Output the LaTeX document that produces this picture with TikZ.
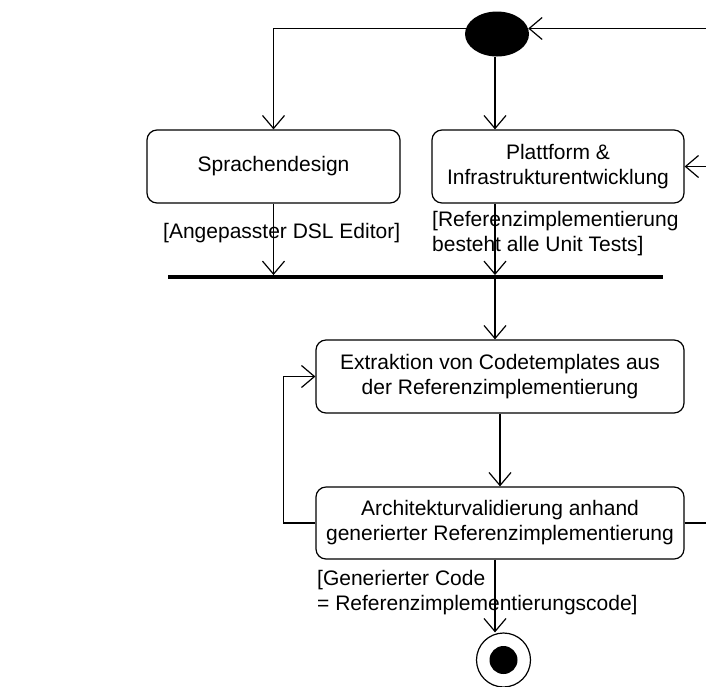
\documentclass[tikz,border=0pt]{standalone}
\usepackage{fontspec}
\setmainfont{Liberation Sans}
\usetikzlibrary{arrows.meta,shapes.geometric}
\begin{document}
\begin{tikzpicture}[x=1pt,y=-1pt,
  act/.style={draw,line width=1.2pt,rounded corners=10pt,align=center,inner sep=0pt,font=\fontsize{21}{25}\selectfont},
  guard/.style={anchor=west,align=left,inner sep=0pt,font=\fontsize{21}{25}\selectfont},
  arr/.style={line width=1.2pt,-{Straight Barb[length=13pt,width=22pt]}},
  ln/.style={line width=1.2pt}]
\useasboundingbox (0,0) rectangle (706,686);
\coordinate (R) at (706,0);
% nodes
\node[ellipse,fill=black,minimum width=64pt,minimum height=45pt,inner sep=0pt] (start) at (497,34) {};
\node[act,minimum width=253pt,minimum height=73pt] (sprach) at (273.5,166.5) {Sprachendesign};
\node[act,minimum width=252pt,minimum height=73pt] (platt) at (558,166.5) {Plattform \&\\Infrastrukturentwicklung};
\node[fill=black,minimum width=495pt,minimum height=3.5pt,inner sep=0pt] (bar) at (415.5,277) {};
\node[act,minimum width=368pt,minimum height=73pt] (extr) at (500,376.5) {Extraktion von Codetemplates aus\\der Referenzimplementierung};
\node[act,minimum width=368pt,minimum height=72pt] (arch) at (500,523) {Architekturvalidierung anhand\\generierter Referenzimplementierung};
\node[circle,draw,line width=1.2pt,minimum size=54pt,inner sep=0pt] (end) at (503.5,660) {};
\node[circle,fill=black,minimum size=28pt,inner sep=0pt] at (end) {};
% guards
\node[guard] (g1) at (163,233) {[Angepasster DSL Editor]};
\node[guard] (g2) at (432,233.5) {[Referenzimplementierung\\besteht alle Unit Tests]};
\node[guard] (g3) at (317,592.5) {[Generierter Code\\= Referenzimplementierungscode]};
% connectors
\draw[arr] (start.170) -| (sprach.north);
\draw[arr] (start.10 -| R) -- (start.10);
\draw[arr] (start.south -| 495,0) -- (platt.north -| 495,0);
\draw[arr] (platt.east -| R) -- (platt.east);
\draw[arr] (sprach.south) -- (sprach.south |- bar.north);
\draw[arr] (platt.south -| 495,0) -- (bar.north -| 495,0);
\draw[arr] (bar.south -| 495,0) -- (extr.north -| 495,0);
\draw[arr] (extr.south) -- (arch.north);
\draw[arr] (arch.west) -- ++(-32,0) |- (extr.west);
\draw[ln] (arch.east) -- (arch.east -| R);
\draw[arr] (arch.south -| 495,0) -- (end.north -| 495,0);
\end{tikzpicture}
\end{document}
